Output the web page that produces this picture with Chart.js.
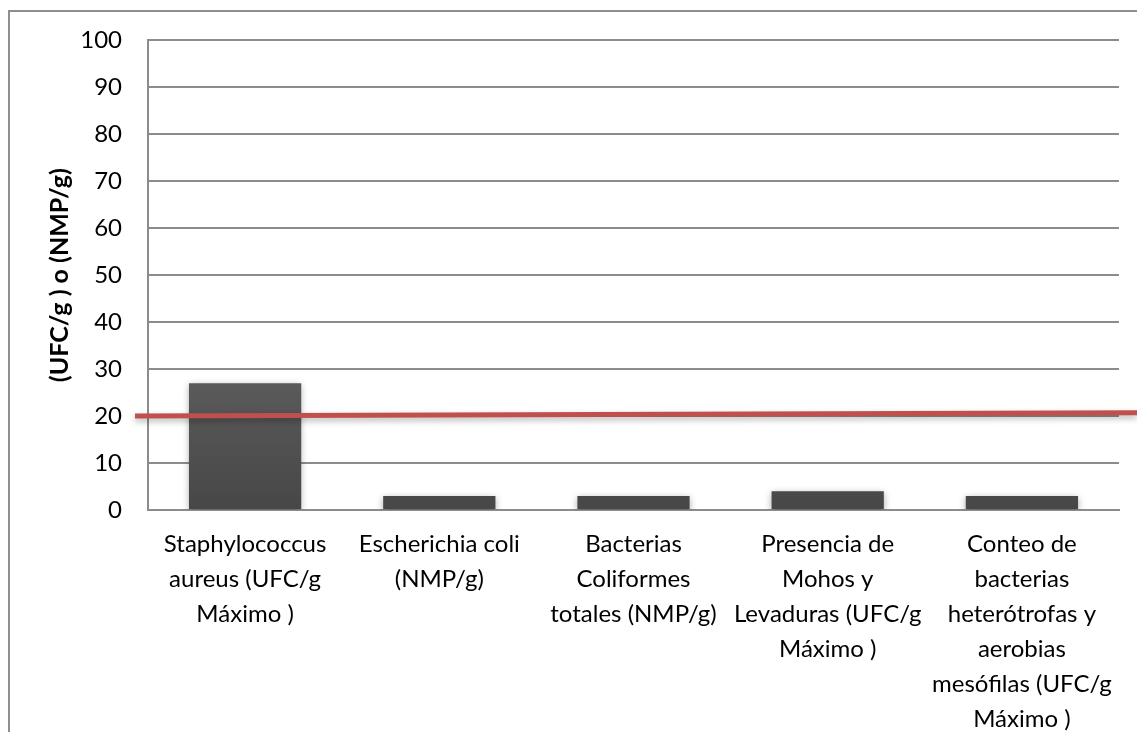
<!DOCTYPE html>
<html>
<head>
<meta charset="utf-8">
<script src="https://cdn.jsdelivr.net/npm/chart.js@4/dist/chart.umd.min.js"></script>
<style>
  html, body { margin: 0; padding: 0; background: #ffffff; }
  #wrap { width: 1137px; height: 732px; position: relative; }
</style>
</head>
<body>
<div id="wrap"><canvas id="c" width="1137" height="732"></canvas></div>
<script>
// Microbiological counts per parameter
const categories = [
  ["Staphylococcus", "aureus (UFC/g", "Máximo )"],
  ["Escherichia coli", "(NMP/g)"],
  ["Bacterias", "Coliformes", "totales (NMP/g)"],
  ["Presencia de", "Mohos y", "Levaduras (UFC/g", "Máximo )"],
  ["Conteo de", "bacterias", "heterótrofas y", "aerobias", "mesófilas (UFC/g", "Máximo )"]
];
const counts = [27, 3, 3, 4, 3];
// Reference limit line (value at its left end and at its right end)
const limitLine = [20, 20.7];
const yTicks = [0, 10, 20, 30, 40, 50, 60, 70, 80, 90, 100];
const yTitle = "(UFC/g ) o (NMP/g)";

const FONT = "Lato, 'Open Sans', 'Liberation Sans', sans-serif";

// Outer frame of the chart object
const framePlugin = {
  id: 'frame',
  beforeDraw(chart) {
    const ctx = chart.ctx;
    ctx.save();
    ctx.strokeStyle = '#8f8f8f';
    ctx.lineWidth = 2;
    ctx.beginPath();
    ctx.moveTo(9, chart.height + 2);
    ctx.lineTo(9, 11);
    ctx.lineTo(chart.width + 2, 11);
    ctx.stroke();
    ctx.restore();
  }
};

// Soft drop shadow under the bars
const shadowPlugin = {
  id: 'barShadow',
  beforeDatasetDraw(chart) {
    const ctx = chart.ctx;
    ctx.save();
    ctx.shadowColor = 'rgba(0,0,0,0.35)';
    ctx.shadowBlur = 7;
    ctx.shadowOffsetX = 0;
    ctx.shadowOffsetY = 2;
  },
  afterDatasetDraw(chart) {
    chart.ctx.restore();
  }
};

// Limit line drawn across the whole plot
const limitPlugin = {
  id: 'limit',
  afterDatasetsDraw(chart) {
    const y = chart.scales.y;
    const area = chart.chartArea;
    const ctx = chart.ctx;
    const x0 = area.left - 13;
    const x1 = chart.width;
    const y0 = y.getPixelForValue(limitLine[0]);
    const y1 = y.getPixelForValue(limitLine[1]);
    ctx.save();
    ctx.shadowColor = 'rgba(0,0,0,0.3)';
    ctx.shadowBlur = 6;
    ctx.shadowOffsetY = 3;
    ctx.strokeStyle = '#c0504d';
    ctx.lineWidth = 5;
    ctx.lineCap = 'butt';
    ctx.beginPath();
    ctx.moveTo(x0, y0);
    ctx.lineTo(x1, y1);
    ctx.stroke();
    ctx.restore();
  }
};

function barGradient(context) {
  const chart = context.chart;
  const area = chart.chartArea;
  if (!area) return '#535353';
  const g = chart.ctx.createLinearGradient(0, area.top, 0, area.bottom);
  g.addColorStop(0, '#6a6a6a');
  g.addColorStop(0.7, '#5c5c5c');
  g.addColorStop(1, '#474747');
  return g;
}

new Chart(document.getElementById('c'), {
  type: 'bar',
  data: {
    labels: categories,
    datasets: [{
      data: counts,
      backgroundColor: barGradient,
      borderWidth: 0,
      categoryPercentage: 1,
      barPercentage: 0.578
    }]
  },
  options: {
    responsive: false,
    animation: false,
    devicePixelRatio: 1,
    layout: { padding: { left: 0, right: 18, top: 40, bottom: 0 } },
    plugins: {
      legend: { display: false },
      tooltip: { enabled: false }
    },
    scales: {
      x: {
        grid: { display: false, drawTicks: false },
        border: { display: true, color: '#8c8c8c', width: 2 },
        ticks: {
          color: '#000',
          font: { family: FONT, size: 24, lineHeight: 1.46 },
          padding: 17,
          maxRotation: 0,
          autoSkip: false
        },
        afterFit(scale) { scale.height = 222; }
      },
      y: {
        min: 0,
        max: 100,
        afterBuildTicks(scale) { scale.ticks = yTicks.map(v => ({ value: v })); },
        grid: { color: '#8c8c8c', lineWidth: 2, drawTicks: false },
        border: { display: true, color: '#8c8c8c', width: 2 },
        ticks: {
          color: '#000',
          font: { family: FONT, size: 24 },
          padding: 26
        },
        title: {
          display: true,
          text: yTitle,
          color: '#000',
          font: { family: FONT, size: 25, weight: 'bold' },
          padding: { top: 45, bottom: 0 }
        },
        afterFit(scale) { scale.width = 148; }
      }
    }
  },
  plugins: [framePlugin, shadowPlugin, limitPlugin]
});
</script>
</body>
</html>
